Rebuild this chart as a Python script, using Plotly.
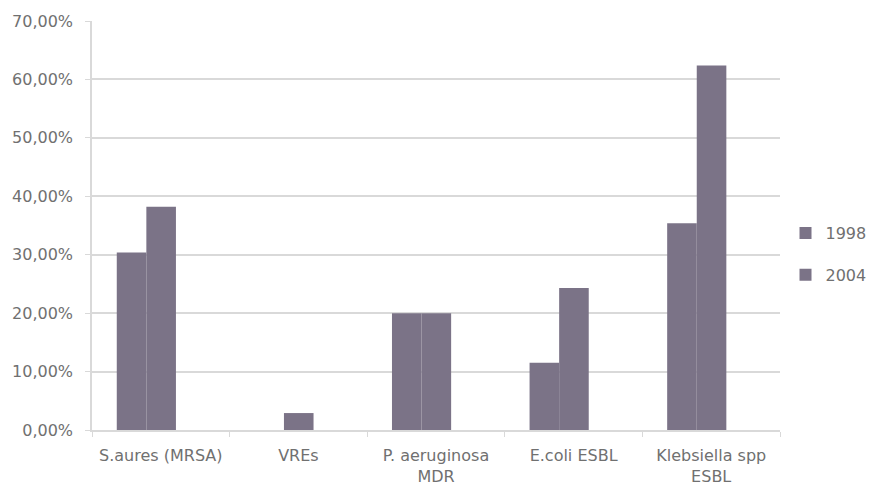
import plotly.graph_objects as go

# Resistance prevalence by organism, 1998 vs 2004
categories = ["S.aures (MRSA)", "VREs", "P. aeruginosa<br>MDR", "E.coli ESBL", "Klebsiella spp<br>ESBL"]
years = ["1998", "2004"]
values_1998 = [0.304, 0.0, 0.200, 0.115, 0.354]
values_2004 = [0.382, 0.029, 0.200, 0.243, 0.624]
y_ticks = [0.0, 0.1, 0.2, 0.3, 0.4, 0.5, 0.6, 0.7]

bar_color = "#7b7387"
text_color = "#707070"
grid_color = "#d9d9d9"
font_family = "'DejaVu Sans', sans-serif"

fig = go.Figure()
for name, vals, off, grp in [
    (years[0], values_1998, -0.32, "a"),
    (years[1], values_2004, -0.105, "b"),
]:
    fig.add_trace(go.Bar(
        x=categories,
        y=vals,
        name=name,
        width=0.215,
        offset=off,
        marker=dict(color=bar_color, line=dict(width=0)),
        legendgroup=grp,
    ))

fig.update_layout(
    width=872,
    height=486,
    margin=dict(l=92, r=92, t=21, b=56, autoexpand=False),
    paper_bgcolor="white",
    plot_bgcolor="white",
    barmode="overlay",
    separators=",.",
    font=dict(family=font_family, size=16, color=text_color),
    showlegend=True,
    legend=dict(
        x=1.008, xanchor="left", xref="paper",
        y=0.523, yanchor="top",
        font=dict(size=16, color=text_color),
        tracegroupgap=18,
        bgcolor="rgba(0,0,0,0)",
        itemwidth=30,
    ),
    xaxis=dict(
        range=[-0.5, 4.5],
        showgrid=False,
        showline=True,
        linecolor=grid_color,
        linewidth=1.5,
        ticks="outside",
        tickson="boundaries",
        ticklen=5,
        tickcolor=grid_color,
        ticklabelstandoff=10,
        tickfont=dict(size=16, color=text_color),
    ),
    yaxis=dict(
        range=[0, 0.7],
        tickvals=y_ticks,
        tickformat=".2%",
        showgrid=True,
        gridcolor=grid_color,
        gridwidth=1.5,
        showline=True,
        linecolor=grid_color,
        linewidth=1.5,
        ticks="outside",
        ticklen=5,
        tickcolor=grid_color,
        ticklabelstandoff=9,
        zeroline=False,
        tickfont=dict(size=16, color=text_color),
    ),
)

fig.write_html("out.html")
